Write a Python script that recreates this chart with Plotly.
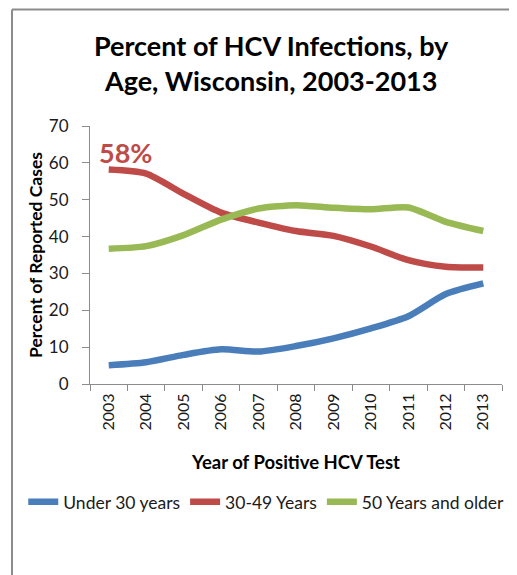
import plotly.graph_objects as go

years = ["2003", "2004", "2005", "2006", "2007", "2008", "2009", "2010", "2011", "2012", "2013"]
under30 = [5.1, 5.9, 7.9, 9.4, 8.8, 10.3, 12.4, 15.1, 18.4, 24.4, 27.3]
age30_49 = [58.2, 57.1, 51.6, 46.5, 43.8, 41.5, 40.2, 37.3, 33.6, 31.8, 31.6]
age50plus = [36.7, 37.4, 40.4, 44.6, 47.6, 48.5, 47.8, 47.4, 47.9, 44.0, 41.5]

series = [
    ("Under 30 years", under30, "#4A7EBB"),
    ("30-49 Years", age30_49, "#BE4B48"),
    ("50 Years and older", age50plus, "#98B954"),
]

FONT = "Lato, 'Open Sans', sans-serif"

fig = go.Figure()
for name, vals, color in series:
    fig.add_trace(go.Scatter(
        x=years, y=vals, name=name, mode="lines",
        line=dict(color=color, width=6.5, shape="spline", smoothing=0.7),
    ))

fig.add_annotation(
    x=0, y=62.9, xref="x", yref="y", text="<b>58%</b>", showarrow=False,
    xanchor="center", yanchor="middle", xshift=17,
    font=dict(family=FONT, size=27, color="#BE4B48"),
)

# frame lines (left and top)
fig.add_shape(type="line", xref="paper", yref="paper", x0=-0.1893, x1=1.1, y0=1.4518, y1=1.4518,
              line=dict(color="#8C8C8C", width=2))
fig.add_shape(type="line", xref="paper", yref="paper", x0=-0.1893, x1=-0.1893, y0=1.4518, y1=-0.8,
              line=dict(color="#8C8C8C", width=2))

fig.update_layout(
    width=509, height=567,
    margin=dict(l=82, r=15, t=118, b=191),
    paper_bgcolor="white", plot_bgcolor="white",
    font=dict(family=FONT, color="#1a1a1a"),
    title=dict(
        text="<b>Percent of HCV Infections, by<br>Age, Wisconsin, 2003-2013</b>",
        x=0.517, xanchor="center", y=0.915, yanchor="middle", yref="container",
        font=dict(family=FONT, size=27, color="#000000"),
    ),
    showlegend=True,
    legend=dict(
        orientation="h", x=-0.162, xanchor="left", y=-0.457, yanchor="middle",
        font=dict(family=FONT, size=17.5, color="#1a1a1a"),
        itemwidth=30, tracegroupgap=0, bgcolor="rgba(0,0,0,0)",
    ),
    xaxis=dict(
        type="category", range=[-0.5, 10.5], tickangle=-90,
        showline=True, linecolor="#8C8C8C", linewidth=1,
        ticks="outside", tickson="boundaries", ticklen=6, tickcolor="#8C8C8C",
        ticklabelstandoff=2,
        tickfont=dict(family=FONT, size=16, color="#1a1a1a"),
        showgrid=False, zeroline=False,
        title=dict(text="<b>Year of Positive HCV Test</b>", standoff=26,
                   font=dict(family=FONT, size=18.5, color="#000000")),
    ),
    yaxis=dict(
        range=[0, 70], dtick=10,
        showline=True, linecolor="#8C8C8C", linewidth=1,
        ticks="outside", ticklen=7, tickcolor="#8C8C8C", ticklabelstandoff=10,
        tickfont=dict(family=FONT, size=17, color="#1a1a1a"),
        showgrid=False, zeroline=False,
        title=dict(text="<b>Percent of Reported Cases</b>", standoff=1,
                   font=dict(family=FONT, size=17.5, color="#000000")),
    ),
)

fig.write_html("out.html")
